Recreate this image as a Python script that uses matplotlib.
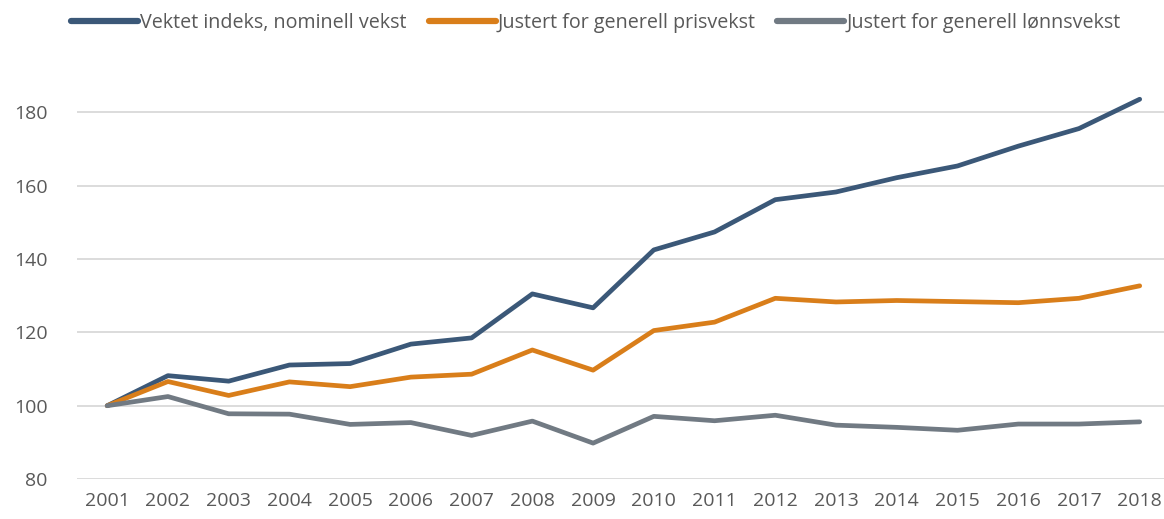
import numpy as np
import matplotlib
matplotlib.use('Agg')
from matplotlib import pyplot as plt

years = [str(y) for y in range(2001, 2019)]
nominell = [100, 108.2, 106.7, 111.1, 111.5, 116.8, 118.5, 130.5, 126.7, 142.5,
            147.4, 156.2, 158.3, 162.2, 165.4, 170.8, 175.6, 183.6]
prisvekst = [100, 106.6, 102.8, 106.5, 105.2, 107.8, 108.6, 115.2, 109.7, 120.5,
             122.8, 129.3, 128.3, 128.7, 128.4, 128.1, 129.3, 132.7]
lonnsvekst = [100, 102.5, 97.8, 97.7, 94.9, 95.4, 91.9, 95.8, 89.8, 97.1,
              95.9, 97.4, 94.7, 94.1, 93.3, 95.0, 95.0, 95.6]

labels = ['Vektet indeks, nominell vekst', 'Justert for generell prisvekst',
          'Justert for generell lønnsvekst']
colors = ['#3B5878', '#D97E1A', '#717A83']

plt.rcParams['font.family'] = ['Open Sans', 'DejaVu Sans']
txt = '#595959'

fig = plt.figure(figsize=(11.64, 5.19), dpi=100)
ax = fig.add_axes([0.066, 0.077, 0.934, 0.777])

x = np.arange(len(years))
for serie, lab, col in zip([nominell, prisvekst, lonnsvekst], labels, colors):
    ax.plot(x, serie, color=col, lw=3.4, label=lab, solid_capstyle='round',
            solid_joinstyle='round')

ax.set_xlim(-0.5, 17.4)
ax.set_ylim(80, 190)
ax.set_yticks(range(80, 181, 20))
ax.set_xticks(x)
ax.set_xticklabels(years)
ax.grid(axis='y', color='#D9D9D9', lw=1.3)
ax.set_axisbelow(True)
for s in ax.spines.values():
    s.set_visible(False)
ax.xaxis.set_tick_params(length=0, labelsize=14, labelcolor=txt, pad=9)
ax.yaxis.set_tick_params(length=0, labelsize=14, labelcolor=txt, pad=21)

leg = fig.legend(loc='upper center', bbox_to_anchor=(0.512, 1.01), ncol=3,
                 frameon=False, fontsize=14.2, handlelength=3.4,
                 handletextpad=0.1, columnspacing=1.1)
for t in leg.get_texts():
    t.set_color(txt)
for h in leg.get_lines():
    h.set_linewidth(4.5)

fig.savefig('out.png', dpi=100)
